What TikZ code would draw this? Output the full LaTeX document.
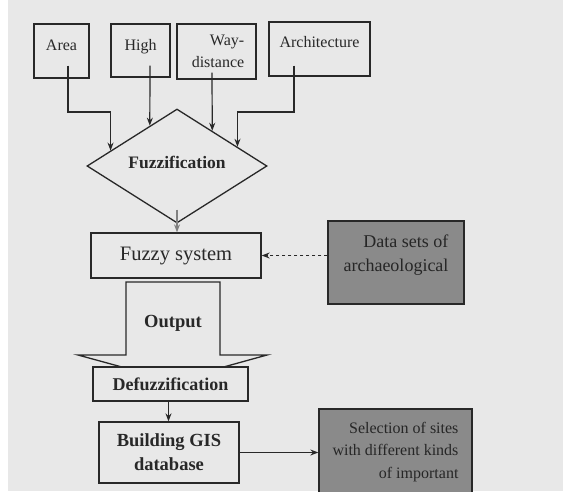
\documentclass[tikz,border=0pt]{standalone}
\usepackage{fontspec}
\setmainfont{Liberation Serif}
\usetikzlibrary{shapes.geometric,arrows.meta,calc}
\definecolor{bg}{RGB}{232,232,232}
\definecolor{ink}{RGB}{40,40,40}
\definecolor{darkfill}{RGB}{138,138,138}
\begin{document}
\begin{tikzpicture}[x=1pt,y=-1pt,
  box/.style={draw=ink, line width=1.3pt, fill=bg, inner sep=0pt, text=ink},
  darkbox/.style={draw=ink, line width=1.3pt, fill=darkfill, inner sep=0pt, text=black!85},
  toplab/.style={font=\fontsize{16}{22}\selectfont, text=ink, inner sep=0pt, text height=11pt, text depth=3pt},
  darklab/.style={font=\fontsize{18}{24}\selectfont, align=right, text=black!85, inner sep=0pt},
  arr/.style={draw=ink, line width=1.2pt, -{Stealth[length=8pt,width=6pt]}}]
\useasboundingbox (0,0) rectangle (563,491);
\fill[white] (0,0) rectangle (563,491);
\fill[bg] (8,0) rectangle (563,491);

% top inputs
\node[box, minimum width=55pt, minimum height=54pt,
  label={[toplab,yshift=5pt]center:Area}] (area) at (61.5,51) {};
\node[box, minimum width=59pt, minimum height=53pt,
  label={[toplab,yshift=4.5pt]center:High}] (high) at (140.5,50.5) {};
\node[box, minimum width=79pt, minimum height=55pt,
  label={[toplab,align=right,yshift=-12pt,xshift=1.5pt]center:Way-\\distance}] (way) at (216.5,51.5) {};
\node[box, minimum width=101pt, minimum height=54pt,
  label={[toplab,yshift=6pt]center:Architecture}] (arch) at (319.5,49) {};

% fuzzification diamond
\node[diamond, draw=ink, line width=1.3pt, fill=bg, minimum width=180pt, minimum height=114pt, inner sep=0pt,
  label={[font=\fontsize{17.5}{20}\selectfont\bfseries, text=ink, yshift=4pt]center:Fuzzification}] (fuzz) at (177,166) {};

\coordinate (lvl) at (0,112);
\coordinate (a0) at ([xshift=6.5pt,yshift=13pt]area.south);
\coordinate (h0) at ([xshift=9.5pt,yshift=12pt]high.south);
\coordinate (w0) at ([xshift=-4.5pt,yshift=7pt]way.south);
\coordinate (r0) at ([xshift=-25.5pt,yshift=11pt]arch.south);
\coordinate (pA) at ($(fuzz.west)!0.267!(fuzz.north)$);
\coordinate (pH) at ($(fuzz.west)!0.7!(fuzz.north)$);
\coordinate (pW) at ($(fuzz.north)!0.389!(fuzz.east)$);
\coordinate (pR) at ($(fuzz.north)!0.667!(fuzz.east)$);
\draw[arr] (a0) -- (a0 |- lvl) -| (pA);
\draw[arr] (h0) -- (pH);
\draw[arr] (w0) -- (pW);
\draw[arr] (r0) -- (r0 |- lvl) -| (pR);

% fuzzy system
\node[box, minimum width=170pt, minimum height=45pt, font=\fontsize{20.5}{24}\selectfont] (fuzzy) at (176,255.5) {Fuzzy system};
\draw[arr, draw=gray] ([yshift=14pt]fuzz.south) -- (fuzz.south |- fuzzy.north);

% data sets
\node[darkbox, minimum width=136pt, minimum height=83pt,
  label={[darklab,yshift=7pt]center:Data sets of\\archaeological}] (data) at (396,262.5) {};
\draw[arr, dashed] (fuzzy.east -| data.west) -- (fuzzy.east);

% output block arrow
\filldraw[fill=bg, draw=ink, line width=1.3pt] (126,282) -- (220,282) -- (220,355) -- (267,355) -- (173,381) -- (78,355) -- (126,355) -- cycle;
\node[font=\fontsize{18.5}{22}\selectfont\bfseries, text=ink] (out) at (173,323) {Output};

% defuzzification
\node[box, minimum width=155pt, minimum height=34pt, font=\fontsize{18}{22}\selectfont\bfseries] (defuzz) at (170.5,384) {Defuzzification};

% building GIS
\node[box, minimum width=140pt, minimum height=61pt, align=center, font=\fontsize{18.5}{24}\selectfont\bfseries] (build) at (169,452.5) {Building GIS\\database};
\draw[arr] ([xshift=-2pt]defuzz.south) -- ([xshift=-2pt]defuzz.south |- build.north);

% selection
\node[darkbox, minimum width=153pt, minimum height=86pt, align=right, font=\fontsize{16}{22.5}\selectfont] (sel) at (395.5,452) {Selection of sites\\with different kinds\\of important};
\draw[arr] (build.east) -- (build.east -| sel.west);
\end{tikzpicture}
\end{document}
